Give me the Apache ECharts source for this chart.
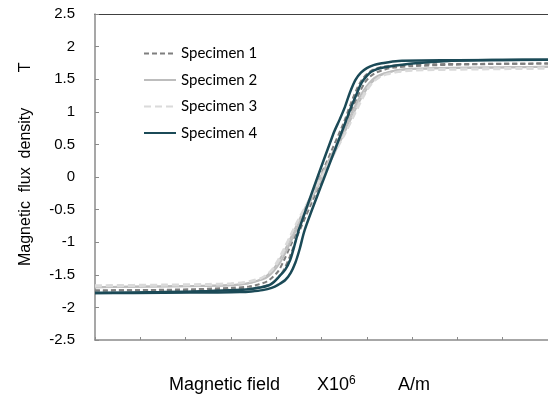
<!DOCTYPE html>
<html>
<head>
<meta charset="utf-8">
<script src="https://cdn.jsdelivr.net/npm/echarts@6/dist/echarts.min.js"></script>
<style>html,body{margin:0;padding:0;background:#fff;}#c{width:548px;height:399px;}</style>
</head>
<body>
<div id="c"></div>
<script>
// Axis ranges / ticks
var xMin = -5, xMax = 5, xInterval = 1;
var yMin = -2.5, yMax = 2.5, yInterval = 0.5;
var seriesNames = ['Specimen 1', 'Specimen 2', 'Specimen 3', 'Specimen 4'];

// Specimen 1: ascending (right) and descending (left) branches [H, B]
var sp1Up = [[-5,-1.74],[-3.5,-1.735],[-2.5,-1.73],[-1.9,-1.72],[-1.6,-1.71],[-1.35,-1.69],[-1.15,-1.65],[-1.02,-1.59],[-0.9,-1.5],[-0.8,-1.38],[-0.7,-1.22],[-0.6,-1.04],[-0.5,-0.85],[0.42,0.62],[0.56,0.86],[0.7,1.08],[0.83,1.28],[0.95,1.44],[1.07,1.54],[1.2,1.6],[1.4,1.65],[1.6,1.68],[2.0,1.7],[2.8,1.72],[4,1.735],[5,1.74]];
var sp1Down = [[-5,-1.74],[-4,-1.735],[-2.8,-1.72],[-2.0,-1.70],[-1.6,-1.68],[-1.4,-1.65],[-1.2,-1.6],[-1.07,-1.53],[-0.95,-1.44],[-0.83,-1.28],[-0.7,-1.08],[-0.56,-0.86],[-0.42,-0.62],[0.5,0.85],[0.6,1.04],[0.7,1.22],[0.8,1.38],[0.9,1.5],[1.02,1.59],[1.15,1.65],[1.35,1.69],[1.6,1.71],[1.9,1.72],[2.5,1.73],[3.5,1.735],[5,1.74]];
// Specimen 2
var sp2Up = [[-5,-1.69],[-3.5,-1.68],[-2.5,-1.67],[-2.0,-1.66],[-1.7,-1.64],[-1.5,-1.61],[-1.3,-1.57],[-1.17,-1.52],[-1.05,-1.44],[-0.92,-1.32],[-0.8,-1.17],[-0.68,-1.0],[-0.55,-0.8],[0.48,0.64],[0.63,0.86],[0.78,1.08],[0.92,1.26],[1.05,1.4],[1.17,1.49],[1.3,1.56],[1.5,1.61],[1.7,1.64],[2.1,1.66],[2.8,1.67],[4,1.68],[5,1.69]];
var sp2Down = [[-5,-1.69],[-4,-1.68],[-2.8,-1.67],[-2.1,-1.66],[-1.7,-1.64],[-1.5,-1.61],[-1.3,-1.56],[-1.17,-1.49],[-1.05,-1.4],[-0.92,-1.26],[-0.78,-1.08],[-0.63,-0.86],[-0.48,-0.64],[0.55,0.8],[0.68,1.0],[0.8,1.17],[0.92,1.32],[1.05,1.44],[1.17,1.52],[1.3,1.57],[1.5,1.61],[1.7,1.64],[2.0,1.66],[2.5,1.67],[3.5,1.68],[5,1.69]];
// Specimen 3
var sp3Up = [[-5,-1.66],[-3.5,-1.65],[-2.5,-1.64],[-2.0,-1.63],[-1.7,-1.61],[-1.5,-1.58],[-1.3,-1.54],[-1.17,-1.48],[-1.05,-1.4],[-0.93,-1.27],[-0.82,-1.12],[-0.71,-0.95],[-0.6,-0.78],[0.52,0.66],[0.67,0.87],[0.82,1.08],[0.96,1.27],[1.1,1.42],[1.22,1.5],[1.35,1.56],[1.55,1.6],[1.8,1.63],[2.2,1.65],[2.8,1.66],[4,1.67],[5,1.68]];
var sp3Down = [[-5,-1.68],[-4,-1.67],[-2.8,-1.66],[-2.2,-1.65],[-1.8,-1.63],[-1.55,-1.6],[-1.35,-1.56],[-1.22,-1.5],[-1.1,-1.42],[-0.96,-1.27],[-0.82,-1.08],[-0.67,-0.87],[-0.52,-0.66],[0.6,0.78],[0.71,0.95],[0.82,1.12],[0.93,1.27],[1.05,1.4],[1.17,1.48],[1.3,1.54],[1.5,1.58],[1.7,1.61],[2.0,1.63],[2.5,1.64],[3.5,1.65],[5,1.66]];
// Specimen 4
var sp4Up = [[-5,-1.78],[-3.5,-1.775],[-2.3,-1.77],[-1.8,-1.765],[-1.55,-1.755],[-1.3,-1.735],[-1.1,-1.70],[-0.95,-1.65],[-0.8,-1.58],[-0.68,-1.47],[-0.58,-1.32],[-0.48,-1.10],[-0.37,-0.81],[0,-0.12],[0.42,0.64],[0.55,0.88],[0.66,1.08],[0.78,1.28],[0.88,1.44],[1.0,1.55],[1.1,1.615],[1.25,1.66],[1.47,1.69],[2.0,1.74],[2.8,1.78],[4,1.795],[5,1.8]];
var sp4Down = [[-5,-1.78],[-3.5,-1.765],[-2.5,-1.75],[-1.9,-1.735],[-1.6,-1.72],[-1.35,-1.695],[-1.16,-1.66],[-1.05,-1.61],[-0.94,-1.53],[-0.8,-1.42],[-0.69,-1.27],[-0.6,-1.06],[-0.5,-0.81],[0.26,0.66],[0.4,0.88],[0.52,1.08],[0.63,1.30],[0.75,1.49],[0.87,1.60],[1.0,1.67],[1.15,1.715],[1.3,1.74],[1.7,1.78],[3,1.79],[5,1.8]];

var styles = [
  {color:'#7f7f7f', width:2, type:[5,3]},
  {color:'#bdbdbd', width:2, type:'solid'},
  {color:'#dadada', width:2, type:[7,4]},
  {color:'#1b4a57', width:2.5, type:'solid'}
];
var branches = [[sp1Up, sp1Down],[sp2Up, sp2Down],[sp3Up, sp3Down],[sp4Up, sp4Down]];

var series = [];
branches.forEach(function(pair, i){
  pair.forEach(function(d){
    series.push({
      name: seriesNames[i], type:'line', data:d, symbol:'none', showSymbol:false, smooth:0.3,
      lineStyle:{color:styles[i].color, width:styles[i].width, type:styles[i].type},
      itemStyle:{color:styles[i].color}, z: 2 + i, silent:true, animation:false
    });
  });
});

var chart = echarts.init(document.getElementById('c'), null, {renderer:'canvas'});
chart.setOption({
  animation:false,
  backgroundColor:'#ffffff',
  grid:{left:95, top:14, width:456, height:326},
  legend:{
    data: seriesNames, orient:'vertical', left:138, top:41, itemWidth:32, itemHeight:14, itemGap:11.5,
    itemStyle:{opacity:0, borderWidth:0},
    textStyle:{fontFamily:'Lato', fontSize:15, color:'#000'}
  },
  xAxis:[{
    type:'value', min:xMin, max:xMax, interval:xInterval, position:'bottom',
    axisLine:{show:true, onZero:false, lineStyle:{color:'#8a8a8a', width:1.5}},
    axisTick:{show:true, inside:true, length:3, lineStyle:{color:'#8a8a8a'}},
    axisLabel:{show:false}, splitLine:{show:false}
  },{
    type:'value', min:xMin, max:xMax, interval:xInterval, position:'top',
    axisLine:{show:true, onZero:false, lineStyle:{color:'#404040', width:1}},
    axisTick:{show:false}, axisLabel:{show:false}, splitLine:{show:false}
  }],
  yAxis:{
    type:'value', min:yMin, max:yMax, interval:yInterval, position:'left',
    axisLine:{show:true, onZero:false, lineStyle:{color:'#8a8a8a', width:1.5}},
    axisTick:{show:true, inside:true, length:4, lineStyle:{color:'#8a8a8a'}},
    axisLabel:{show:true, margin:20, fontFamily:'Liberation Sans', fontSize:15, color:'#000'},
    splitLine:{show:false}
  },
  graphic:[
    {type:'text', rotation:Math.PI/2, x:18, y:266,
     style:{text:'Magnetic  flux  density        T', fontFamily:'Liberation Sans', fontSize:16, fill:'#000', textAlign:'left', textVerticalAlign:'top'}},
    {type:'text', x:169, y:385, style:{text:'Magnetic field', fontFamily:'Liberation Sans', fontSize:18, fill:'#000', textVerticalAlign:'middle'}},
    {type:'text', x:317, y:385, style:{text:'X10', fontFamily:'Liberation Sans', fontSize:18, fill:'#000', textVerticalAlign:'middle'}},
    {type:'text', x:349, y:381, style:{text:'6', fontFamily:'Liberation Sans', fontSize:12, fill:'#000', textVerticalAlign:'middle'}},
    {type:'text', x:398, y:385, style:{text:'A/m', fontFamily:'Liberation Sans', fontSize:18, fill:'#000', textVerticalAlign:'middle'}}
  ],
  series: series
});
</script>
</body>
</html>
